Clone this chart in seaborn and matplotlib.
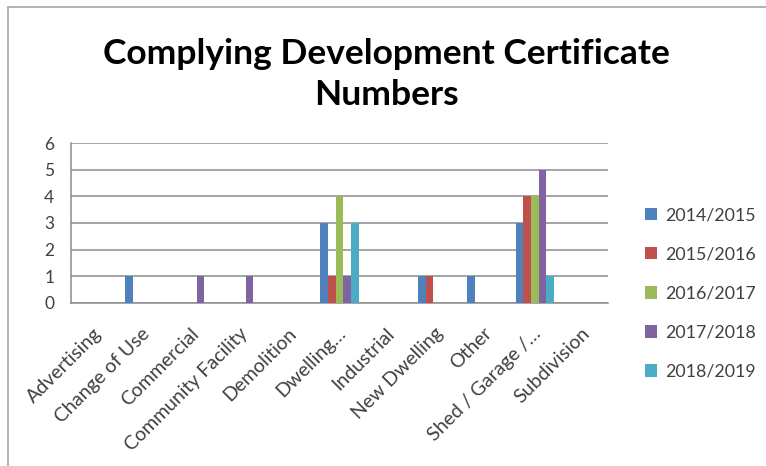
import pandas as pd
import matplotlib.pyplot as plt
import matplotlib.transforms as mtransforms
import seaborn as sns
from matplotlib.lines import Line2D

# Dados do gráfico
categorias = ['Advertising', 'Change of Use', 'Commercial', 'Community Facility', 'Demolition',
              'Dwelling…', 'Industrial', 'New Dwelling', 'Other', 'Shed / Garage /…', 'Subdivision']
anos = ['2014/2015', '2015/2016', '2016/2017', '2017/2018', '2018/2019']
v_2014 = [0, 1, 0, 0, 0, 3, 0, 1, 1, 3, 0]
v_2015 = [0, 0, 0, 0, 0, 1, 0, 1, 0, 4, 0]
v_2016 = [0, 0, 0, 0, 0, 4, 0, 0, 0, 4, 0]
v_2017 = [0, 0, 1, 1, 0, 1, 0, 0, 0, 5, 0]
v_2018 = [0, 0, 0, 0, 0, 3, 0, 0, 0, 1, 0]
cores = ['#4F81BD', '#C0504D', '#9BBB59', '#8064A2', '#4BACC6']

series = [v_2014, v_2015, v_2016, v_2017, v_2018]
linhas = []
for ano, valores in zip(anos, series):
    for cat, v in zip(categorias, valores):
        linhas.append({'Categoria': cat, 'Ano': ano, 'Valor': v})
df = pd.DataFrame(linhas)

sns.set_style('white')
plt.rcParams['font.family'] = ['Lato', 'DejaVu Sans']

fig = plt.figure(figsize=(7.66, 4.66), dpi=100)
ax = fig.add_axes([0.0927, 0.35, 0.701, 0.343])

sns.barplot(data=df, x='Categoria', y='Valor', hue='Ano', order=categorias, hue_order=anos,
            palette=cores, width=0.78, saturation=1, ax=ax, errorbar=None, zorder=3,
            linewidth=0, edgecolor='none')

ax.set_ylim(0, 6)
ax.set_xlim(-0.5, len(categorias) - 0.5)
ax.set_yticks(range(7))
ax.grid(axis='y', color='#8C8C8C', linewidth=1.1, zorder=0)
ax.set_axisbelow(True)
ax.set_xlabel('')
ax.set_ylabel('')
for s in ['top', 'right']:
    ax.spines[s].set_visible(False)
for s in ['left', 'bottom']:
    ax.spines[s].set_color('#8C8C8C')
    ax.spines[s].set_linewidth(1.1)

ax.tick_params(axis='x', length=0, labelsize=14, colors='#404040', pad=20)
ax.tick_params(axis='y', length=0, labelsize=12.5, colors='#404040', pad=12)
desloc = mtransforms.ScaledTranslation(3 / 100, 0, fig.dpi_scale_trans)
for lbl in ax.get_xticklabels():
    lbl.set_rotation(45)
    lbl.set_ha('right')
    lbl.set_va('center')
    lbl.set_rotation_mode('anchor')
    lbl.set_transform(lbl.get_transform() + desloc)

# Legenda
ax.legend(loc='center left', bbox_to_anchor=(0.83, 0.37), bbox_transform=fig.transFigure,
          frameon=False, fontsize=12.8, labelspacing=1.3, handlelength=0.7, handleheight=0.7,
          handletextpad=0.45, borderpad=0, labelcolor='#404040')

# Título
fig.text(0.505, 0.84, 'Complying Development Certificate\nNumbers', ha='center', va='center',
         fontsize=25.5, fontweight='bold', color='black', linespacing=1.35)

# Moldura
fig.add_artist(Line2D([0.0105, 1], [0.985, 0.985], transform=fig.transFigure, color='#A6A6A6', lw=1.2))
fig.add_artist(Line2D([0.0105, 0.0105], [0, 0.985], transform=fig.transFigure, color='#A6A6A6', lw=1.2))

plt.savefig('out.png', dpi=100)
